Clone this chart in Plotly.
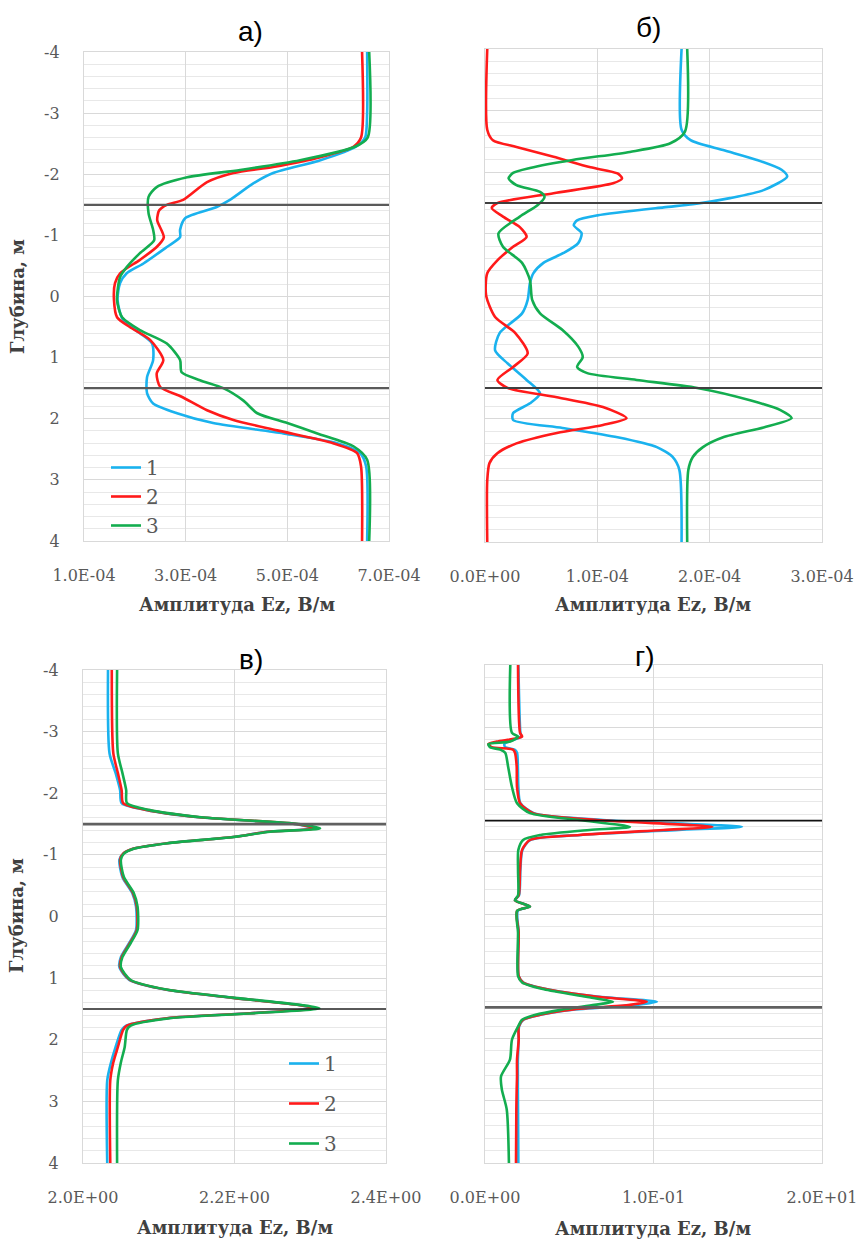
import plotly.graph_objects as go

W, H = 863, 1241

BLUE, RED, GREEN = "#1AB2EE", "#FF1A1A", "#13AD4F"
TICK_FONT = dict(family="DejaVu Serif", size=16, color="#595959")
TITLE_FONT = dict(family="DejaVu Serif", size=18, color="#404040", weight="bold")

series_names = ["1", "2", "3"]
boundaries = [-1.5, 1.5]
depth_ticks = [-4, -3, -2, -1, 0, 1, 2, 3, 4]
depth_tick_text = ["-4", "-3", "-2", "-1", "0", "1", "2", "3", "4"]

# ---------- а) amplitude, units of 1e-4 V/m ----------
a_depth_1 = [-4.0, -3.0, -2.6, -2.45, -2.23, -2.02, -1.85, -1.58, -1.46, -1.28, -1.09, -0.97,
             -0.81, -0.54, -0.38, -0.22, 0.06, 0.39, 0.60, 0.77, 1.04, 1.32, 1.58, 1.75, 1.91,
             2.07, 2.24, 2.40, 2.56, 2.78, 4.0]
a_ez_1 = [6.57, 6.57, 6.53, 6.35, 5.65, 4.72, 4.33, 3.87, 3.60, 2.99, 2.89, 2.89,
          2.63, 2.17, 1.84, 1.71, 1.66, 1.77, 2.10, 2.34, 2.36, 2.24, 2.24, 2.36, 2.83,
          3.54, 4.92, 5.98, 6.43, 6.55, 6.57]
a_depth_2 = [-4.0, -2.6, -2.45, -2.28, -2.12, -2.02, -1.87, -1.58, -1.50, -1.41, -1.25, -0.97,
             -0.81, -0.60, -0.38, -0.22, 0.06, 0.34, 0.50, 0.71, 1.04, 1.26, 1.48, 1.64, 1.86,
             2.02, 2.19, 2.40, 2.56, 2.78, 4.0]
a_ez_2 = [6.47, 6.45, 6.30, 5.65, 4.72, 3.94, 3.42, 2.95, 2.63, 2.48, 2.44, 2.57,
          2.43, 2.10, 1.71, 1.61, 1.59, 1.65, 1.90, 2.30, 2.56, 2.43, 2.50, 2.92, 3.42,
          3.94, 4.80, 5.90, 6.37, 6.45, 6.47]
a_depth_3 = [-4.0, -2.6, -2.45, -2.23, -2.07, -1.95, -1.79, -1.63, -1.36, -1.09, -0.92, -0.71,
             -0.48, -0.32, 0.06, 0.34, 0.55, 0.77, 1.04, 1.24, 1.37, 1.50, 1.70, 1.91, 2.07,
             2.24, 2.45, 2.67, 4.0]
a_ez_3 = [6.61, 6.58, 6.33, 5.25, 4.07, 3.03, 2.43, 2.27, 2.27, 2.36, 2.38, 2.10,
          1.84, 1.71, 1.65, 1.75, 2.10, 2.63, 2.89, 2.92, 3.28, 3.74, 4.13, 4.41, 5.00,
          5.59, 6.30, 6.57, 6.61]

# ---------- б) amplitude, units of 1e-4 V/m ----------
b_depth_1 = [-4.0, -2.69, -2.52, -2.36, -2.20, -2.04, -1.93, -1.71, -1.58, -1.48, -1.43, -1.30,
             -1.22, -1.14, -1.01, -0.85, -0.69, -0.53, -0.36, -0.20, 0.07, 0.29, 0.61, 0.89,
             1.10, 1.37, 1.59, 1.75, 1.91, 2.02, 2.15, 2.30, 2.46, 2.62, 2.83, 4.0]
b_ez_1 = [1.75, 1.75, 1.83, 2.12, 2.42, 2.64, 2.69, 2.48, 2.18, 1.85, 1.59, 1.00,
          0.82, 0.79, 0.86, 0.83, 0.70, 0.52, 0.43, 0.40, 0.38, 0.33, 0.13, 0.09,
          0.20, 0.37, 0.49, 0.40, 0.25, 0.25, 0.69, 1.18, 1.53, 1.67, 1.73, 1.75]
b_depth_2 = [-4.0, -2.69, -2.52, -2.41, -2.25, -2.08, -1.98, -1.90, -1.82, -1.66, -1.50, -1.42,
             -1.28, -1.11, -0.95, -0.79, -0.57, -0.36, 0.0, 0.35, 0.61, 0.94, 1.16, 1.37,
             1.50, 1.65, 1.81, 1.99, 2.10, 2.23, 2.40, 2.56, 2.72, 3.0, 4.0]
b_ez_2 = [0.02, 0.02, 0.07, 0.28, 0.61, 0.94, 1.18, 1.22, 1.14, 0.61, 0.11, 0.06,
          0.16, 0.31, 0.37, 0.25, 0.11, 0.02, 0.01, 0.09, 0.27, 0.38, 0.25, 0.11,
          0.20, 0.64, 1.05, 1.26, 1.05, 0.64, 0.28, 0.11, 0.04, 0.02, 0.02]
b_depth_3 = [-4.0, -2.66, -2.47, -2.33, -2.20, -2.07, -1.99, -1.90, -1.79, -1.68, -1.60, -1.47,
             -1.28, -1.01, -0.79, -0.53, -0.25, 0.07, 0.29, 0.56, 0.83, 1.00, 1.16, 1.26,
             1.37, 1.50, 1.70, 1.86, 1.99, 2.14, 2.30, 2.46, 2.62, 2.83, 4.0]
b_ez_3 = [1.80, 1.78, 1.65, 1.29, 0.78, 0.40, 0.25, 0.21, 0.28, 0.49, 0.53, 0.47,
          0.31, 0.12, 0.16, 0.33, 0.40, 0.42, 0.49, 0.69, 0.83, 0.87, 0.82, 0.91,
          1.35, 1.89, 2.36, 2.63, 2.73, 2.48, 2.12, 1.94, 1.85, 1.81, 1.80]

# ---------- в) amplitude, V/m ----------
v_depth = [-4.0, -2.65, -2.33, -2.05, -1.84, -1.73, -1.61, -1.50, -1.43, -1.375, -1.29, -1.19,
           -1.10, -1.02, -0.92, -0.64, -0.38, -0.16, 0.22, 0.43, 0.66, 0.82, 1.03, 1.19,
           1.32, 1.44, 1.49, 1.57, 1.65, 1.77, 1.84, 2.12, 2.37, 2.66, 4.0]
v_ez_1 = [2.033, 2.035, 2.043, 2.049, 2.051, 2.083, 2.153, 2.280, 2.304, 2.243, 2.198, 2.111,
          2.066, 2.053, 2.048, 2.052, 2.065, 2.070, 2.070, 2.061, 2.050, 2.048, 2.061, 2.110,
          2.198, 2.286, 2.303, 2.220, 2.111, 2.057, 2.051, 2.043, 2.037, 2.032, 2.032]
v_ez_2 = [2.038, 2.040, 2.046, 2.051, 2.053, 2.084, 2.154, 2.282, 2.306, 2.244, 2.198, 2.111,
          2.066, 2.053, 2.049, 2.053, 2.066, 2.071, 2.071, 2.062, 2.051, 2.049, 2.062, 2.111,
          2.198, 2.287, 2.305, 2.221, 2.111, 2.058, 2.053, 2.046, 2.040, 2.036, 2.036]
v_ez_3 = [2.045, 2.046, 2.052, 2.057, 2.058, 2.087, 2.156, 2.285, 2.313, 2.247, 2.199, 2.112,
          2.067, 2.054, 2.050, 2.054, 2.067, 2.072, 2.072, 2.063, 2.052, 2.050, 2.063, 2.112,
          2.200, 2.290, 2.312, 2.226, 2.115, 2.063, 2.058, 2.055, 2.050, 2.046, 2.045]

# ---------- г) amplitude, V/m ----------
g_depth = [-4.0, -2.91, -2.85, -2.77, -2.73, -2.68, -2.64, -2.59, -2.37, -2.04, -1.78, -1.62,
           -1.51, -1.40, -1.35, -1.27, -1.19, -1.03, -0.71, -0.30, -0.22, -0.12, -0.05, 0.3,
           1.0, 1.1, 1.21, 1.33, 1.41, 1.46, 1.54, 1.62, 1.70, 1.81, 2.02, 2.34, 2.61, 2.82,
           3.14, 4.0]
g_ez_1 = [0.0198, 0.0210, 0.0215, 0.0140, 0.0115, 0.0120, 0.0175, 0.0190, 0.0195, 0.0198, 0.0210, 0.0290,
          0.0700, 0.1525, 0.1150, 0.0570, 0.0270, 0.0222, 0.0210, 0.0202, 0.0178, 0.0267, 0.0195, 0.0200,
          0.0200, 0.0228, 0.0370, 0.0680, 0.1020, 0.0900, 0.0510, 0.0330, 0.0228, 0.0202, 0.0200, 0.0195, 0.0195, 0.0195,
          0.0196, 0.0198]
g_ez_2 = [0.0196, 0.0208, 0.0220, 0.0070, 0.0020, 0.0040, 0.0166, 0.0178, 0.0188, 0.0190, 0.0208, 0.0285,
          0.0665, 0.1350, 0.1060, 0.0560, 0.0267, 0.0220, 0.0208, 0.0200, 0.0178, 0.0267, 0.0190, 0.0200,
          0.0200, 0.0226, 0.0368, 0.0665, 0.0960, 0.0860, 0.0500, 0.0326, 0.0226, 0.0200, 0.0200, 0.0190, 0.0190, 0.0188,
          0.0186, 0.0184]
g_ez_3 = [0.0150, 0.0160, 0.0196, 0.0150, 0.0020, 0.0030, 0.0090, 0.0120, 0.0137, 0.0160, 0.0190, 0.0267,
          0.0560, 0.0860, 0.0620, 0.0330, 0.0226, 0.0198, 0.0196, 0.0196, 0.0178, 0.0267, 0.0190, 0.0196,
          0.0196, 0.0220, 0.0350, 0.0600, 0.0760, 0.0650, 0.0450, 0.0300, 0.0220, 0.0196, 0.0160, 0.0148, 0.0095, 0.0100,
          0.0129, 0.0142]

colors = [BLUE, RED, GREEN]


def px_x(p):
    return p / W


def px_y(p):
    return 1 - p / H


fig = go.Figure()


def add_panel(idx, depths, values, legend=None, scale=1.0):
    for k, (d, v) in enumerate(zip(depths, values)):
        fig.add_trace(go.Scatter(
            x=[val * scale for val in v], y=d, mode="lines",
            name=series_names[k],
            line=dict(color=colors[k], width=2.6, shape="spline", smoothing=0.7),
            xaxis=f"x{idx}" if idx > 1 else "x",
            yaxis=f"y{idx}" if idx > 1 else "y",
            showlegend=legend is not None,
            legend=legend if legend else "legend",
            legendgroup=f"{legend}_{k}" if legend else None,
        ))


add_panel(1, [a_depth_1, a_depth_2, a_depth_3], [a_ez_1, a_ez_2, a_ez_3], legend="legend", scale=1e-4)
add_panel(2, [b_depth_1, b_depth_2, b_depth_3], [b_ez_1, b_ez_2, b_ez_3], scale=1e-4)
add_panel(3, [v_depth] * 3, [v_ez_1, v_ez_2, v_ez_3], legend="legend2")
add_panel(4, [g_depth] * 3, [g_ez_1, g_ez_2, g_ez_3])

panels = {
    1: dict(x=(84, 389), y=(52, 541), rng=[1e-4, 7e-4],
            tv=[1e-4, 3e-4, 5e-4, 7e-4], tt=["1.0E-04", "3.0E-04", "5.0E-04", "7.0E-04"], ylab=True),
    2: dict(x=(485, 822), y=(49, 542), rng=[0, 3e-4],
            tv=[0, 1e-4, 2e-4, 3e-4], tt=["0.0E+00", "1.0E-04", "2.0E-04", "3.0E-04"], ylab=False),
    3: dict(x=(83, 386), y=(670, 1163), rng=[2.0, 2.4],
            tv=[2.0, 2.2, 2.4], tt=["2.0E+00", "2.2E+00", "2.4E+00"], ylab=True),
    4: dict(x=(485, 822), y=(665, 1163), rng=[0, 0.2],
            tv=[0, 0.1, 0.2], tt=["0.0E+00", "1.0E-01", "2.0E+01"], ylab=False),
}

layout_axes = {}
for i, p in panels.items():
    xs = "" if i == 1 else str(i)
    layout_axes[f"xaxis{xs}"] = dict(
        domain=[px_x(p["x"][0]), px_x(p["x"][1])], range=p["rng"], anchor=f"y{xs}",
        tickvals=p["tv"], ticktext=p["tt"], tickfont=TICK_FONT, ticks="", automargin=False,
        ticklabelstandoff=20, showgrid=True, gridcolor="#d9d9d9", gridwidth=1.2,
        zeroline=False, showline=True, linecolor="#d9d9d9", linewidth=1.2, mirror=True,
    )
    layout_axes[f"yaxis{xs}"] = dict(
        domain=[px_y(p["y"][1]), px_y(p["y"][0])], range=[4, -4], anchor=f"x{xs}",
        tickvals=depth_ticks, ticktext=depth_tick_text, showticklabels=p["ylab"],
        tickfont=TICK_FONT, ticks="", automargin=False,
        ticklabelstandoff=20, showgrid=True, gridcolor="#d9d9d9", gridwidth=1.2,
        minor=dict(dtick=0.2, tick0=0, showgrid=True, gridcolor="#e8e8e8", gridwidth=1),
        zeroline=False, showline=True, linecolor="#d9d9d9", linewidth=1.2, mirror=True,
    )

# layer boundaries
boundary_style = {
    1: [("#5a5a5a", 2.2), ("#5a5a5a", 2.2)],
    2: [("#404040", 2.0), ("#404040", 2.0)],
    3: [("#606060", 2.8), ("#202020", 1.6)],
    4: [("#111111", 1.6), ("#606060", 2.8)],
}
shapes = []
for i, styles in boundary_style.items():
    xs = "" if i == 1 else str(i)
    for b, (c, w) in zip(boundaries, styles):
        shapes.append(dict(type="line", xref=f"x{xs} domain", yref=f"y{xs}",
                           x0=0, x1=1, y0=b, y1=b, line=dict(color=c, width=w), layer="above"))

annotations = []
for txt, (xp, yp) in [("а)", (250, 32)), ("б)", (648, 28)), ("в)", (251, 659)), ("г)", (645, 656))]:
    annotations.append(dict(text=txt, x=px_x(xp), y=px_y(yp), xref="paper", yref="paper",
                            showarrow=False, xanchor="center", yanchor="middle",
                            font=dict(family="Liberation Sans", size=28, color="#000000")))
for xp, yp in [(237, 605), (653, 605), (235, 1227), (653, 1228)]:
    annotations.append(dict(text="Амплитуда Ez, В/м", x=px_x(xp), y=px_y(yp), xref="paper",
                            yref="paper", showarrow=False, xanchor="center", yanchor="middle",
                            font=TITLE_FONT))
for xp, yp in [(17, 297), (17, 916)]:
    annotations.append(dict(text="Глубина, м", x=px_x(xp), y=px_y(yp), xref="paper",
                            yref="paper", showarrow=False, xanchor="center", yanchor="middle",
                            textangle=-90, font=TITLE_FONT))

legend_font = dict(family="DejaVu Serif", size=20, color="#595959")
fig.update_layout(
    width=W, height=H, margin=dict(l=0, r=0, t=0, b=0, autoexpand=False),
    paper_bgcolor="white", plot_bgcolor="white",
    shapes=shapes, annotations=annotations,
    legend=dict(x=px_x(106), y=px_y(448), xanchor="left", yanchor="top",
                bgcolor="rgba(0,0,0,0)", font=legend_font, tracegroupgap=0, itemwidth=30),
    legend2=dict(x=px_x(284), y=px_y(1044), xanchor="left", yanchor="top",
                 bgcolor="rgba(0,0,0,0)", font=legend_font, tracegroupgap=11, itemwidth=30),
    **layout_axes,
)

fig.write_html("out.html")
